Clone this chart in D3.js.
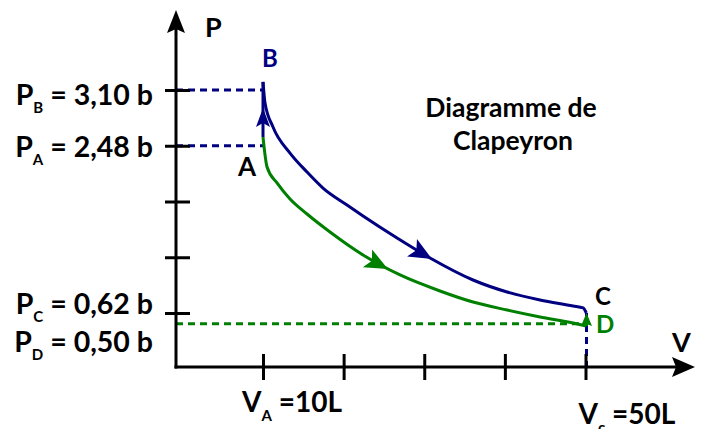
<!DOCTYPE html>
<html>
<head>
<meta charset="utf-8">
<script src="https://cdn.jsdelivr.net/npm/d3@7"></script>
<style>
  body { margin: 0; background: #fff; }
  text { font-family: Lato, "Open Sans", sans-serif; font-weight: 700; }
</style>
</head>
<body>
<svg id="chart" width="704" height="429"></svg>
<script>
// states of the cycle
const vA = 10
const vC = 50
const pA = 2.48
const pB = 3.10
const pC = 0.62
const pD = 0.50

const vTicks = [10, 20, 30, 40, 50]
const pTicks = [3.10, 2.48, 1.86, 1.24, 0.62]

const pLabelSubs = ['B', 'A', 'C', 'D']
const pLabelTexts = [' = 3,10 b', ' = 2,48 b', ' = 0,62 b', ' = 0,50 b']
const pLabelValues = [pB, pA, pC, pD]

// B -> C (blue)
const bcV = [10, 10.25, 11.24, 13.35, 15.46, 17.44, 20.42, 22.41, 26.63, 30.72, 36.05, 40.27, 44.36, 48.46, 49.7, 50.1]
const bcP = [3.19, 2.955, 2.689, 2.399, 2.188, 2.01, 1.821, 1.699, 1.454, 1.232, 0.987, 0.854, 0.765, 0.698, 0.676, 0.62]

// D -> A (green)
const daV = [10, 10.5, 11.74, 13.35, 15.46, 18.31, 22.41, 27.0, 31.95, 36.05, 40.27, 44.36, 48.46, 50.06]
const daP = [2.577, 2.244, 2.066, 1.888, 1.721, 1.521, 1.265, 1.043, 0.865, 0.742, 0.653, 0.576, 0.509, 0.475]

const blue = '#000080'
const green = '#008000'

const svg = d3.select('#chart')

const x = d3.scaleLinear().domain([10, 50]).range([263, 585.5])
const y = d3.scaleLinear().domain([0.62, 3.10]).range([313, 90])
const x0 = 176
const y0 = 367

const line = d3.line()
  .x(d => x(d[0]))
  .y(d => y(d[1]))
  .curve(d3.curveMonotoneX)

const arrowShape = (len, half, notch) => `M0,0L${-len},${-half}L${-len + notch},0L${-len},${half}Z`

// dashed guide lines
const dashed = (x1, y1, x2, y2, color) => {
  svg.append('line')
    .attr('x1', x1).attr('y1', y1).attr('x2', x2).attr('y2', y2)
    .attr('stroke', color)
    .attr('stroke-width', 3)
    .attr('stroke-dasharray', '7,5')
}
dashed(x0, y(pB), x(vA), y(pB), blue)
dashed(x0, y(pA), x(vA), y(pA), blue)
dashed(x0, y(pD), x(vC), y(pD), green)
dashed(x(vC) + 1, y(pC), x(vC) + 1, y0, blue)

// axes
const yAxis = svg.append('g')
  .attr('transform', `translate(${x0},0)`)
  .call(d3.axisLeft(y).tickValues(pTicks).tickSize(11).tickFormat(''))
yAxis.select('.domain').remove()
yAxis.selectAll('.tick line').attr('x1', 14).attr('stroke', '#000').attr('stroke-width', 3)

const xAxis = svg.append('g')
  .attr('transform', `translate(0,${y0})`)
  .call(d3.axisBottom(x).tickValues(vTicks).tickSize(13).tickFormat(''))
xAxis.select('.domain').remove()
xAxis.selectAll('.tick line').attr('y1', -13).attr('stroke', '#000').attr('stroke-width', 3)

svg.append('line')
  .attr('x1', x0).attr('y1', y0 + 1.5).attr('x2', x0).attr('y2', 20)
  .attr('stroke', '#000').attr('stroke-width', 3)
svg.append('line')
  .attr('x1', x0 - 1.5).attr('y1', y0).attr('x2', 685).attr('y2', y0)
  .attr('stroke', '#000').attr('stroke-width', 3)
svg.append('path')
  .attr('d', arrowShape(23, 9, 4))
  .attr('transform', `translate(${x0},10) rotate(-90)`)
  .attr('fill', '#000')
svg.append('path')
  .attr('d', arrowShape(23, 10, 4))
  .attr('transform', `translate(695,${y0})`)
  .attr('fill', '#000')

// curves
const curve = (vs, ps, color) => svg.append('path')
  .attr('d', line(vs.map((v, i) => [v, ps[i]])))
  .attr('fill', 'none')
  .attr('stroke', color)
  .attr('stroke-width', 3)

const arrowOnPath = (path, tipX, color) => {
  const node = path.node()
  let lo = 0
  let hi = node.getTotalLength()
  while (hi - lo > 0.2) {
    const mid = (lo + hi) / 2
    if (node.getPointAtLength(mid).x < tipX) lo = mid
    else hi = mid
  }
  const p = node.getPointAtLength(lo)
  const q = node.getPointAtLength(Math.max(0, lo - 6))
  const angle = Math.atan2(p.y - q.y, p.x - q.x) * 180 / Math.PI
  svg.append('path')
    .attr('d', arrowShape(23, 10, 5))
    .attr('transform', `translate(${p.x},${p.y}) rotate(${angle})`)
    .attr('fill', color)
}

const da = curve(daV, daP, green)
const bc = curve(bcV, bcP, blue)
arrowOnPath(bc, x(30.97), blue)
arrowOnPath(da, x(25.5), green)

// A -> B (blue, vertical)
svg.append('line')
  .attr('x1', x(vA)).attr('y1', y(daP[0])).attr('x2', x(vA)).attr('y2', y(bcP[0]))
  .attr('stroke', blue).attr('stroke-width', 3)
svg.append('path')
  .attr('d', arrowShape(19, 7, 4))
  .attr('transform', `translate(${x(vA)},${y(2.90)}) rotate(-90)`)
  .attr('fill', blue)

// D -> C (green, vertical)
svg.append('line')
  .attr('x1', x(vC) + 1).attr('y1', y(daP[daP.length - 1])).attr('x2', x(vC) + 1).attr('y2', y(pC) + 4)
  .attr('stroke', green).attr('stroke-width', 3)
svg.append('path')
  .attr('d', arrowShape(13, 5.5, 2))
  .attr('transform', `translate(${x(vC) + 1},${y(pC)}) rotate(-90)`)
  .attr('fill', green)

// pressure labels
const pLabelDy = [15, 11, 1, 25]
pLabelSubs.forEach((s, i) => {
  const t = svg.append('text')
    .attr('x', 153)
    .attr('y', (i === 3 ? y(0.46) : y(pLabelValues[i])) + pLabelDy[i])
    .attr('text-anchor', 'end')
    .attr('font-size', 28.5)
    .attr('fill', '#000')
  t.append('tspan').text('P')
  t.append('tspan').attr('font-size', 15).attr('dy', 8).text(s)
  t.append('tspan').attr('dy', -8).text(pLabelTexts[i])
})

// volume labels
const vLabel = (v, sub, txt, dx, dy) => {
  const t = svg.append('text')
    .attr('x', x(v) + dx)
    .attr('y', y0 + dy)
    .attr('font-size', 28)
    .attr('fill', '#000')
  t.append('tspan').text('V')
  t.append('tspan').attr('font-size', 15).attr('dy', 9).text(sub)
  t.append('tspan').attr('dy', -9).text(txt)
}
vLabel(vA, 'A', ' =10L', -21, 45)
vLabel(vC, 'c', ' =50L', -7, 57)

// point and axis letters
const letter = (txt, px, py, color, size) => svg.append('text')
  .attr('x', px).attr('y', py)
  .attr('font-size', size)
  .attr('fill', color)
  .text(txt)
letter('P', 205, 37, '#000', 27)
letter('V', 672, 352, '#000', 27)
letter('B', 262, 67, blue, 24)
letter('A', 238, 176, '#000', 26)
letter('C', 595, 305, '#000', 24)
letter('D', 596, 333, green, 24)

// title
svg.append('text')
  .attr('x', 511).attr('y', 117)
  .attr('text-anchor', 'middle')
  .attr('font-size', 26.5)
  .text('Diagramme de')
svg.append('text')
  .attr('x', 513).attr('y', 150)
  .attr('text-anchor', 'middle')
  .attr('font-size', 26.5)
  .text('Clapeyron')
</script>
</body>
</html>
